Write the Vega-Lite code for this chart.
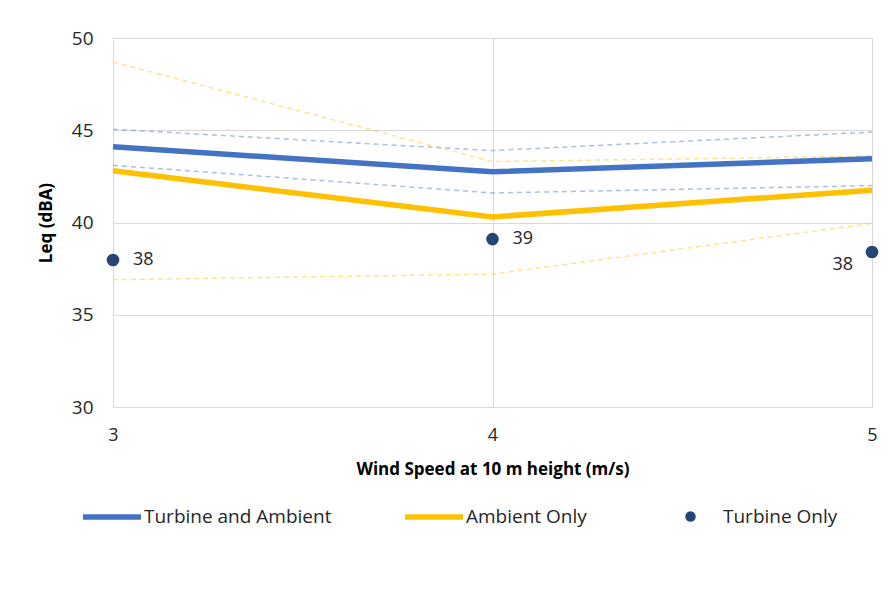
{
  "$schema": "https://vega.github.io/schema/vega-lite/v6.json",
  "autosize": {"type": "none"},
  "width": 759,
  "height": 369,
  "padding": {"left": 113, "top": 38, "right": 21, "bottom": 209},
  "background": "white",
  "config": {
    "view": {"stroke": null},
    "font": "Open Sans",
    "axis": {"gridColor": "#D9D9D9", "domainColor": "#D9D9D9", "ticks": false, "labelColor": "#262626", "titleColor": "#000000"}
  },
  "datasets": {
    "main": [
      {"speed": 3, "leq": 44.1, "series": "Turbine and Ambient"},
      {"speed": 4, "leq": 42.75, "series": "Turbine and Ambient"},
      {"speed": 5, "leq": 43.45, "series": "Turbine and Ambient"},
      {"speed": 3, "leq": 42.8, "series": "Ambient Only"},
      {"speed": 4, "leq": 40.3, "series": "Ambient Only"},
      {"speed": 5, "leq": 41.75, "series": "Ambient Only"}
    ],
    "bands": [
      {"speed": 3, "leq": 45.05, "series": "Turbine and Ambient upper", "group": "Turbine and Ambient"},
      {"speed": 4, "leq": 43.9, "series": "Turbine and Ambient upper", "group": "Turbine and Ambient"},
      {"speed": 5, "leq": 44.9, "series": "Turbine and Ambient upper", "group": "Turbine and Ambient"},
      {"speed": 3, "leq": 43.1, "series": "Turbine and Ambient lower", "group": "Turbine and Ambient"},
      {"speed": 4, "leq": 41.6, "series": "Turbine and Ambient lower", "group": "Turbine and Ambient"},
      {"speed": 5, "leq": 42.0, "series": "Turbine and Ambient lower", "group": "Turbine and Ambient"},
      {"speed": 3, "leq": 48.7, "series": "Ambient Only upper", "group": "Ambient Only"},
      {"speed": 4, "leq": 43.3, "series": "Ambient Only upper", "group": "Ambient Only"},
      {"speed": 5, "leq": 43.6, "series": "Ambient Only upper", "group": "Ambient Only"},
      {"speed": 3, "leq": 36.9, "series": "Ambient Only lower", "group": "Ambient Only"},
      {"speed": 4, "leq": 37.2, "series": "Ambient Only lower", "group": "Ambient Only"},
      {"speed": 5, "leq": 39.95, "series": "Ambient Only lower", "group": "Ambient Only"}
    ],
    "turbine": [
      {"speed": 3, "leq": 37.97, "label": "38", "series": "Turbine Only"},
      {"speed": 4, "leq": 39.1, "label": "39", "series": "Turbine Only"},
      {"speed": 5, "leq": 38.4, "label": "38", "series": "Turbine Only"}
    ]
  },
  "encoding": {
    "x": {"field": "speed", "type": "quantitative",
          "scale": {"domain": [3, 5], "nice": false},
          "axis": {"values": [3, 4, 5], "labelExpr": "format(datum.value, 'd')", "labelOverlap": false, "labelFlush": false,
                   "title": "Wind Speed at 10 m height (m/s)",
                   "labelFontSize": 18, "labelPadding": 19, "grid": true,
                   "titleFontSize": 17, "titleFontWeight": "bold", "titlePadding": 17}},
    "y": {"field": "leq", "type": "quantitative",
          "scale": {"domain": [30, 50], "nice": false},
          "axis": {"values": [30, 35, 40, 45, 50], "title": "Leq (dBA)", "labelOverlap": false,
                   "labelFontSize": 19, "labelPadding": 20, "grid": true,
                   "titleFontSize": 17, "titleFontWeight": "bold", "titlePadding": 16}}
  },
  "layer": [
    {
      "data": {"name": "bands"},
      "transform": [{"filter": "datum.group == 'Turbine and Ambient'"}],
      "mark": {"type": "line", "strokeWidth": 1.5, "strokeDash": [5, 4], "color": "#4472C4", "opacity": 0.45},
      "encoding": {"detail": {"field": "series"}}
    },
    {
      "data": {"name": "bands"},
      "transform": [{"filter": "datum.group == 'Ambient Only'"}],
      "mark": {"type": "line", "strokeWidth": 1.5, "strokeDash": [5, 4], "color": "#FFC000", "opacity": 0.45},
      "encoding": {"detail": {"field": "series"}}
    },
    {
      "data": {"name": "main"},
      "mark": {"type": "line", "strokeWidth": 5.5},
      "encoding": {
        "color": {"field": "series", "type": "nominal", "sort": null,
                  "scale": {"domain": ["Turbine and Ambient", "Ambient Only"], "range": ["#4472C4", "#FFC000"]},
                  "legend": {"orient": "none", "legendX": -33, "legendY": 447, "direction": "horizontal",
                             "title": null, "symbolType": "stroke", "symbolSize": 3364, "symbolStrokeWidth": 5.5,
                             "labelFont": "Open Sans", "labelFontSize": 19, "labelColor": "#262626",
                             "labelOffset": 0, "columnPadding": 62, "labelLimit": 300}}
      }
    },
    {
      "data": {"name": "turbine"},
      "mark": {"type": "point", "filled": true, "size": 160, "opacity": 1},
      "encoding": {
        "fill": {"field": "series", "type": "nominal",
                 "scale": {"domain": ["Turbine Only"], "range": ["#264478"]},
                 "legend": {"orient": "none", "legendX": 568, "legendY": 469, "title": null,
                            "symbolType": "circle", "symbolSize": 110,
                            "labelFont": "Open Sans", "labelFontSize": 19, "labelColor": "#262626",
                            "labelOffset": 23}}
      }
    },
    {
      "data": {"name": "turbine"},
      "transform": [{"filter": "datum.speed < 5"}],
      "mark": {"type": "text", "align": "left", "dx": 20, "fontSize": 18, "color": "#262626"},
      "encoding": {"text": {"field": "label"}}
    },
    {
      "data": {"name": "turbine"},
      "transform": [{"filter": "datum.speed == 5"}],
      "mark": {"type": "text", "align": "right", "dx": -19, "dy": 13, "fontSize": 18, "color": "#262626"},
      "encoding": {"text": {"field": "label"}}
    }
  ]
}
